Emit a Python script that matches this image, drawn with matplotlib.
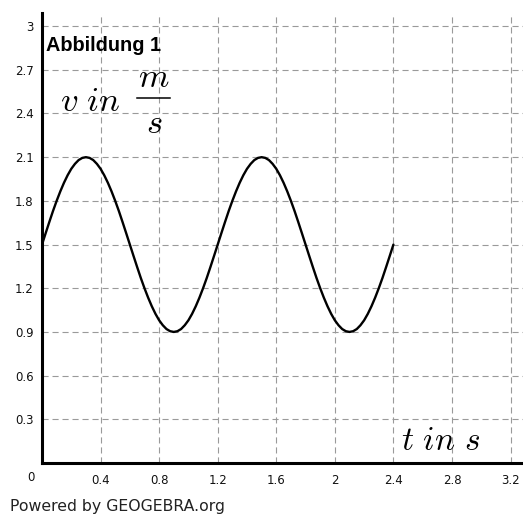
import matplotlib
matplotlib.use('Agg')
import matplotlib.pyplot as plt
from matplotlib.lines import Line2D

# values (t in s, v in m/s), every 0.025 s
t_vals = [i * 0.025 for i in range(97)]
v_vals = [1.5, 1.578, 1.655, 1.73, 1.8, 1.865, 1.924, 1.976, 2.02, 2.054, 2.08, 2.095,
          2.1, 2.095, 2.08, 2.054, 2.02, 1.976, 1.924, 1.865, 1.8, 1.73, 1.655, 1.578,
          1.5, 1.422, 1.345, 1.27, 1.2, 1.135, 1.076, 1.024, 0.98, 0.946, 0.92, 0.905,
          0.9, 0.905, 0.92, 0.946, 0.98, 1.024, 1.076, 1.135, 1.2, 1.27, 1.345, 1.422,
          1.5, 1.578, 1.655, 1.73, 1.8, 1.865, 1.924, 1.976, 2.02, 2.054, 2.08, 2.095,
          2.1, 2.095, 2.08, 2.054, 2.02, 1.976, 1.924, 1.865, 1.8, 1.73, 1.655, 1.578,
          1.5, 1.422, 1.345, 1.27, 1.2, 1.135, 1.076, 1.024, 0.98, 0.946, 0.92, 0.905,
          0.9, 0.905, 0.92, 0.946, 0.98, 1.024, 1.076, 1.135, 1.2, 1.27, 1.345, 1.422,
          1.5]

x_ticks = [0.4, 0.8, 1.2, 1.6, 2.0, 2.4, 2.8, 3.2]
x_labels = ['0.4', '0.8', '1.2', '1.6', '2', '2.4', '2.8', '3.2']
y_ticks = [0.3, 0.6, 0.9, 1.2, 1.5, 1.8, 2.1, 2.4, 2.7, 3.0]
y_labels = ['0.3', '0.6', '0.9', '1.2', '1.5', '1.8', '2.1', '2.4', '2.7', '3']

plt.rcParams['mathtext.fontset'] = 'cm'

W, H = 523, 514
fig = plt.figure(figsize=(W / 100, H / 100), dpi=100)
fig.patch.set_facecolor('white')
ax = fig.add_axes([42 / W, 51 / H, 1 - 42 / W, 450 / H])

ax.set_xlim(0, 3.285)
ax.set_ylim(0, 3.09)

# grid
grid_kw = dict(color='#9a9a9a', linewidth=0.8, linestyle=(0, (5.5, 3.5)), zorder=1)
for x in x_ticks:
    ax.axvline(x, **grid_kw)
for y in y_ticks:
    ax.axhline(y, **grid_kw)

ax.plot(t_vals, v_vals, color='black', linewidth=1.7, zorder=3,
        solid_capstyle='round', solid_joinstyle='round')

for side in ['top', 'right']:
    ax.spines[side].set_visible(False)
ax.spines['left'].set_linewidth(2.2)
ax.spines['bottom'].set_linewidth(2.2)

ax.set_xticks(x_ticks)
ax.set_xticklabels(x_labels)
ax.set_yticks(y_ticks)
ax.set_yticklabels(y_labels)
ax.tick_params(axis='both', length=0, labelsize=8.5, colors='#111111')
ax.tick_params(axis='x', pad=8)
ax.tick_params(axis='y', pad=6)

ax.text(-0.075, -0.1, '0', fontsize=8.5, ha='center', va='center', color='#111111',
        transform=ax.transData, clip_on=False)

ax.text(0.03, 2.87, 'Abbildung 1', fontsize=14.3, fontweight='bold',
        family='Liberation Sans', ha='left', va='center')

# axis captions (GeoGebra style text)
fig.text(60 / W, 1 - 101 / H, r'$v\ in$', fontsize=25, ha='left', va='center')
fig.text(154 / W, 1 - 77 / H, r'$m$', fontsize=25, ha='center', va='center')
fig.text(154 / W, 1 - 123 / H, r'$s$', fontsize=25, ha='center', va='center')
fig.add_artist(Line2D([137 / W, 170 / W], [1 - 98 / H, 1 - 98 / H],
                      color='black', linewidth=1.1, transform=fig.transFigure))
fig.text(401 / W, 1 - 441 / H, r'$t\ in\ s$', fontsize=24, ha='left', va='center')

fig.text(10 / W, 1 - 506 / H, 'Powered by GEOGEBRA.org', fontsize=11.3,
         ha='left', va='center', color='#222222')

fig.savefig('out.png', dpi=100)
